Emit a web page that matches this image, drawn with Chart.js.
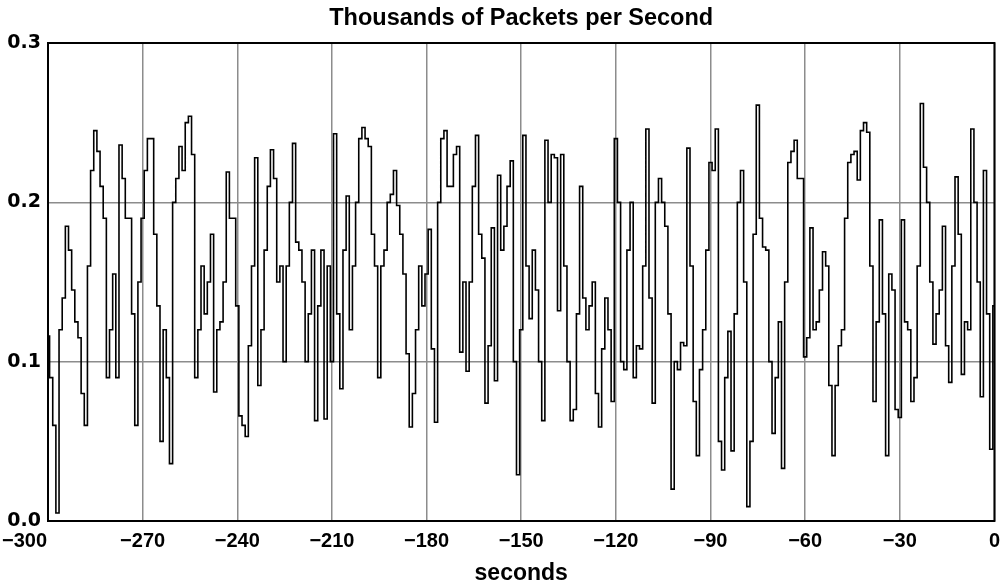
<!DOCTYPE html>
<html>
<head>
<meta charset="utf-8">
<script src="https://cdn.jsdelivr.net/npm/chart.js@4/dist/chart.umd.min.js"></script>
<style>
  html, body { margin: 0; padding: 0; background: #ffffff; }
  #wrap { width: 1008px; height: 587px; }
</style>
</head>
<body>
<div id="wrap"><canvas id="chart-packets" width="1008" height="587"></canvas></div>
<script>
// ========== Data ==========
const startSecond = -300; // first sample, one sample per second
const packetRate = [
  0.116, 0.09, 0.06, 0.005, 0.12, 0.14, 0.185, 0.17, 0.145, 0.125,
  0.115, 0.08, 0.06, 0.16, 0.22, 0.245, 0.232, 0.21, 0.19, 0.09,
  0.12, 0.155, 0.09, 0.236, 0.215, 0.19, 0.19, 0.13, 0.06, 0.15,
  0.19, 0.22, 0.24, 0.24, 0.18, 0.135, 0.05, 0.12, 0.09, 0.036,
  0.2, 0.215, 0.235, 0.22, 0.25, 0.254, 0.23, 0.09, 0.12, 0.16,
  0.13, 0.15, 0.18, 0.081, 0.12, 0.125, 0.15, 0.219, 0.19, 0.19,
  0.135, 0.066, 0.06, 0.053, 0.11, 0.16, 0.228, 0.085, 0.12, 0.17,
  0.21, 0.233, 0.215, 0.15, 0.16, 0.1, 0.16, 0.2, 0.237, 0.175,
  0.17, 0.15, 0.1, 0.13, 0.17, 0.063, 0.135, 0.17, 0.064, 0.16,
  0.1, 0.243, 0.13, 0.083, 0.17, 0.204, 0.12, 0.16, 0.2, 0.24,
  0.247, 0.24, 0.235, 0.18, 0.16, 0.09, 0.16, 0.17, 0.2, 0.205,
  0.22, 0.198, 0.18, 0.155, 0.105, 0.059, 0.08, 0.12, 0.16, 0.135,
  0.155, 0.183, 0.108, 0.062, 0.2, 0.24, 0.245, 0.21, 0.21, 0.23,
  0.235, 0.106, 0.15, 0.094, 0.15, 0.21, 0.242, 0.18, 0.165, 0.074,
  0.11, 0.184, 0.088, 0.217, 0.17, 0.185, 0.21, 0.226, 0.1, 0.029,
  0.12, 0.242, 0.16, 0.127, 0.17, 0.145, 0.1, 0.063, 0.239, 0.2,
  0.23, 0.228, 0.132, 0.23, 0.16, 0.1, 0.063, 0.07, 0.13, 0.21,
  0.14, 0.12, 0.135, 0.15, 0.08, 0.059, 0.108, 0.14, 0.12, 0.075,
  0.24, 0.2, 0.1, 0.095, 0.17, 0.2, 0.09, 0.11, 0.108, 0.16,
  0.246, 0.14, 0.074, 0.2, 0.215, 0.2, 0.185, 0.13, 0.02, 0.1,
  0.095, 0.112, 0.11, 0.234, 0.16, 0.075, 0.041, 0.095, 0.12, 0.17,
  0.225, 0.22, 0.246, 0.05, 0.032, 0.09, 0.119, 0.044, 0.13, 0.2,
  0.22, 0.15, 0.009, 0.05, 0.18, 0.261, 0.19, 0.172, 0.17, 0.1,
  0.055, 0.09, 0.125, 0.033, 0.15, 0.225, 0.232, 0.239, 0.215, 0.215,
  0.103, 0.115, 0.184, 0.12, 0.125, 0.145, 0.169, 0.16, 0.085, 0.041,
  0.085, 0.11, 0.12, 0.19, 0.225, 0.23, 0.232, 0.214, 0.245, 0.25,
  0.244, 0.16, 0.075, 0.125, 0.189, 0.13, 0.041, 0.155, 0.145, 0.07,
  0.065, 0.189, 0.125, 0.12, 0.075, 0.09, 0.16, 0.262, 0.222, 0.2,
  0.15, 0.111, 0.13, 0.145, 0.185, 0.11, 0.087, 0.16, 0.216, 0.18,
  0.092, 0.125, 0.12, 0.246, 0.2, 0.15, 0.078, 0.22, 0.13, 0.045,
  0.135,
];
const xTicks = [-300, -270, -240, -210, -180, -150, -120, -90, -60, -30, 0];
const yTicks = [0, 0.1, 0.2, 0.3];

const points = packetRate.map((v, i) => ({ x: startSecond + i, y: v }));

function formatSeconds(v) {
  return v < 0 ? "\u2212" + Math.abs(v) : String(v);
}

const sansBold = "'Liberation Sans', Arial, sans-serif";
const xTickFont = { family: sansBold, weight: "bold", size: 20 };
const xTickPadding = 8;

// plugin: black frame round the plot area, first x label hangs left of its tick
const plotFrame = {
  id: "plotFrame",
  afterDraw: (chart) => {
    const { ctx, chartArea } = chart;
    const xScale = chart.scales.x;
    ctx.save();
    ctx.strokeStyle = "#000000";
    ctx.lineWidth = 2;
    ctx.strokeRect(chartArea.left, chartArea.top, chartArea.right - chartArea.left, chartArea.bottom - chartArea.top);

    ctx.fillStyle = "#000000";
    ctx.font = "bold " + xTickFont.size + "px " + sansBold;
    ctx.textAlign = "right";
    ctx.textBaseline = "middle";
    const lineHeight = xTickFont.size * 1.2;
    ctx.fillText(formatSeconds(xTicks[0]), xScale.getPixelForValue(xTicks[0]) - 1, xScale.top + xTickPadding + lineHeight / 2);
    ctx.restore();
  },
};

// ========== Chart ==========
const chartPacketsId = document.getElementById("chart-packets");
const ctxPackets = chartPacketsId.getContext("2d");

new Chart(ctxPackets, {
  type: "line",
  data: {
    datasets: [
      {
        data: points,
        borderColor: "#000000",
        borderWidth: 1.6,
        pointRadius: 0,
        stepped: "middle",
        fill: false,
      },
    ],
  },
  options: {
    responsive: false,
    animation: false,
    layout: { padding: { top: 0, right: 7, bottom: 0, left: 0 } },
    plugins: {
      legend: { display: false },
      tooltip: { enabled: false },
      title: {
        display: true,
        fullSize: false, // centre over the plot, not the canvas
        text: "Thousands of Packets per Second",
        color: "#000000",
        font: { family: sansBold, weight: "bold", size: 23.5 },
        padding: { top: 4, bottom: 10.8 },
      },
    },
    scales: {
      x: {
        type: "linear",
        min: -300,
        max: 0,
        afterBuildTicks: (axis) => {
          axis.ticks = xTicks.map((v) => ({ value: v }));
        },
        afterFit: (scale) => {
          scale.height = 66;
        },
        ticks: {
          color: "#000000",
          font: xTickFont,
          padding: xTickPadding,
          maxRotation: 0,
          autoSkip: false,
          callback: (v) => (v === xTicks[0] ? "" : formatSeconds(v)),
        },
        grid: { color: "#8c8c8c", lineWidth: 1.5, drawTicks: false },
        border: { display: false },
        title: {
          display: true,
          text: "seconds",
          color: "#000000",
          font: { family: sansBold, weight: "bold", size: 23 },
          padding: { top: 0, bottom: 0 },
        },
      },
      y: {
        min: 0,
        max: 0.3,
        afterBuildTicks: (axis) => {
          axis.ticks = yTicks.map((v) => ({ value: v }));
        },
        afterFit: (scale) => {
          scale.width = 48;
        },
        ticks: {
          color: "#000000",
          font: { family: "'DejaVu Sans', sans-serif", weight: "bold", size: 19 },
          padding: 7,
          callback: (v) => Number(v).toFixed(1),
        },
        grid: { color: "#8c8c8c", lineWidth: 1.5, drawTicks: false },
        border: { display: false },
      },
    },
  },
  plugins: [plotFrame],
});
</script>
</body>
</html>
